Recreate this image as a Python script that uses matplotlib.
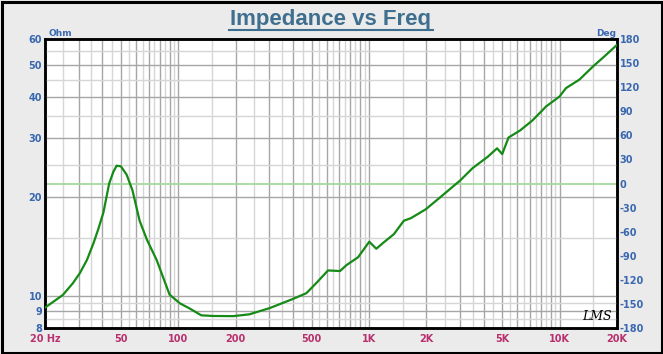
import matplotlib
matplotlib.use("Agg")
import matplotlib.pyplot as plt
from matplotlib.patches import Rectangle
from matplotlib.lines import Line2D

# ---- data ----
freq_hz = [20, 24.8, 28, 30.5, 33.2, 36, 38, 40.5, 43.4, 45.7, 47.5, 50, 53.6, 57.5,
           62.7, 68.5, 77, 90, 102, 115, 132, 152, 194, 236, 303, 400, 470, 530,
           610, 705, 762, 877, 1004, 1093, 1190, 1353, 1524, 1658, 1985, 2340, 3015,
           3500, 4200, 4700, 5000, 5400, 6200, 7200, 8500, 10000, 10800, 12700,
           15000, 16900, 20000]
impedance_ohm = [9.22, 10.07, 10.93, 11.74, 12.86, 14.5, 15.9, 17.9, 21.9, 23.8, 24.8,
                 24.7, 23.3, 20.9, 16.9, 14.8, 12.86, 10.1, 9.5, 9.16, 8.74, 8.7, 8.69,
                 8.8, 9.2, 9.8, 10.2, 10.95, 11.95, 11.9, 12.4, 13.1, 14.6, 13.9, 14.5,
                 15.4, 16.9, 17.2, 18.3, 19.8, 22.4, 24.4, 26.4, 28.0, 26.9, 30.2, 31.7,
                 34.0, 37.5, 40.2, 42.6, 45.2, 49.6, 52.7, 57.6]
phase_freq = [20, 20000]
phase_deg = [0, 0]

x_ticks = [20, 50, 100, 200, 500, 1000, 2000, 5000, 10000, 20000]
x_tick_labels = ["20 Hz", "50", "100", "200", "500", "1K", "2K", "5K", "10K", "20K"]
y_ticks = [8, 9, 10, 20, 30, 40, 50, 60]
y_tick_labels = ["8", "9", "10", "20", "30", "40", "50", "60"]
deg_ticks = list(range(-180, 181, 30))

W, H = 663, 354
fig = plt.figure(figsize=(W / 100, H / 100), dpi=100)
fig.patch.set_facecolor("#ebebeb")
fig.patches.append(Rectangle((1.5 / W, 1.5 / H), (W - 3) / W, (H - 3) / H,
                             transform=fig.transFigure, fill=False,
                             edgecolor="black", linewidth=2.2))

L, R, T, B = 45, 617, 39, 328
ax2 = fig.add_axes([L / W, (H - B) / H, (R - L) / W, (B - T) / H])
ax2.set_facecolor("white")
ax2.set_xscale("log")
ax2.set_xlim(20, 20000)
ax2.set_ylim(-180, 180)
ax2.yaxis.tick_right()
ax2.set_yticks(deg_ticks)
ax2.set_yticklabels([str(d) for d in deg_ticks])
ax2.tick_params(axis="y", length=0, pad=2, labelsize=7, labelcolor="#3a68b0")
ax2.tick_params(axis="x", which="both", length=0, labelbottom=False)
for lab in ax2.get_yticklabels():
    lab.set_fontweight("bold")

dark = "#a6a6a6"
light = "#d6d6d6"
# vertical grid
for dec in [10, 100, 1000, 10000]:
    for m in [1, 1.5, 2, 2.5, 3, 3.5, 4, 4.5, 5, 5.5, 6, 6.5, 7, 7.5, 8, 8.5, 9, 9.5]:
        f = dec * m
        if 20 < f < 20000:
            if dec == 10000 and m not in (1, 1.5):
                continue
            c = dark if float(m).is_integer() else light
            ax2.axvline(f, color=c, linewidth=1.0, zorder=1)

ax = fig.add_axes(ax2.get_position(), sharex=ax2)
ax.patch.set_visible(False)
ax.set_yscale("log")
ax.set_ylim(8, 60)
# horizontal grid
for v in [8.5, 9, 9.5, 10, 15, 20, 25, 30, 35, 40, 45, 50, 55]:
    c = dark if v in (9, 10, 20, 30, 40, 50) else light
    ax.axhline(v, color=c, linewidth=1.0, zorder=1)

ax2.plot(phase_freq, phase_deg, color="#a6d9a0", linewidth=1.3, zorder=2)

ax.set_xticks(x_ticks)
ax.set_xticklabels(x_tick_labels)
ax.xaxis.set_minor_locator(matplotlib.ticker.NullLocator())
ax.set_yticks(y_ticks)
ax.set_yticklabels(y_tick_labels)
ax.yaxis.set_minor_locator(matplotlib.ticker.NullLocator())
ax.tick_params(axis="x", which="both", length=0, pad=4, labelsize=7, labelcolor="#b8306e")
ax.tick_params(axis="y", which="both", length=0, pad=2, labelsize=7, labelcolor="#3a68b0")
for lab in ax.get_xticklabels() + ax.get_yticklabels():
    lab.set_fontweight("bold")

ax.plot(freq_hz, impedance_ohm, color="#168a16", linewidth=1.6, zorder=3)

for a in (ax, ax2):
    for s in a.spines.values():
        s.set_color("black")
        s.set_linewidth(1.8)

fig.text(331 / W, 1 - 20 / H, "Impedance vs Freq", ha="center", va="center",
         fontsize=16, fontweight="bold", color="#3f6f8e", family="Liberation Sans")
fig.add_artist(Line2D([229 / W, 433 / W], [1 - 30 / H, 1 - 30 / H],
                      transform=fig.transFigure, color="#3f6f8e", linewidth=1.5))
fig.text(48 / W, 1 - 34 / H, "Ohm", ha="left", va="center", fontsize=6.5,
         fontweight="bold", color="#3a68b0")
fig.text(616 / W, 1 - 34 / H, "Deg", ha="right", va="center", fontsize=6.5,
         fontweight="bold", color="#3a68b0")
fig.text(597 / W, 1 - 317 / H, "LMS", ha="center", va="center", fontsize=9,
         style="italic", color="black", family="DejaVu Serif")

fig.savefig("out.png", dpi=100, facecolor=fig.get_facecolor())
